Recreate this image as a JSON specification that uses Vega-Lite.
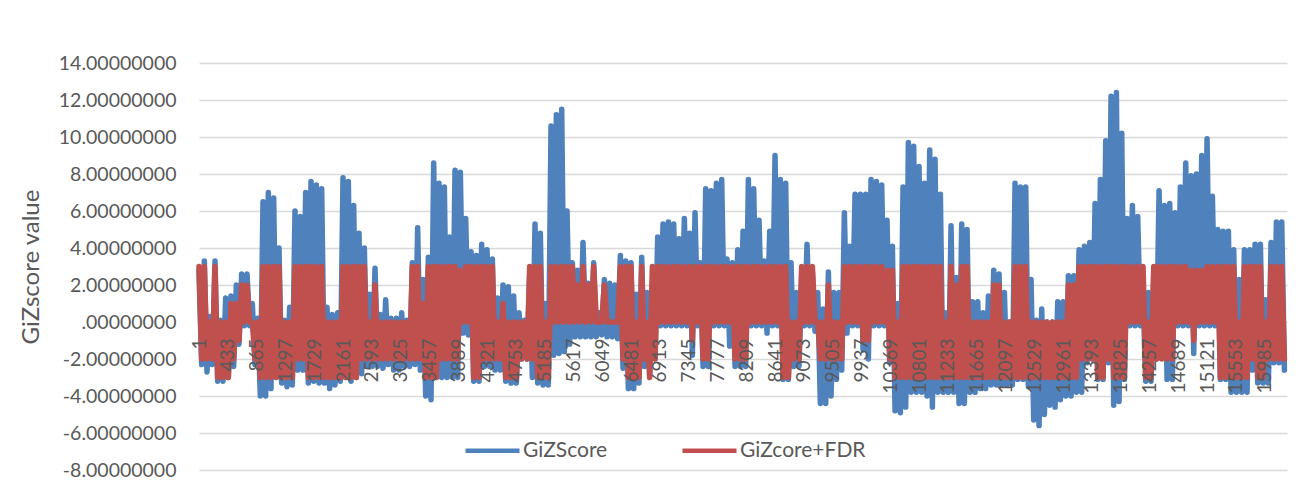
{
"$schema": "https://vega.github.io/schema/vega-lite/v6.json",
"width": 1088, "height": 407,
"autosize": {"type": "none"},
"padding": {"left": 199, "top": 63, "right": 13, "bottom": 12},
"background": "white",
"config": {"view": {"stroke": null}, "font": "Lato"},
"data": {"values": [
{"i":1,"g":2.8,"f":3},{"i":41,"g":-2.3,"f":-2},
{"i":81,"g":3.3,"f":3},{"i":121,"g":-2.7,"f":-2},
{"i":161,"g":0.3,"f":0},{"i":201,"g":-2.3,"f":-2},
{"i":241,"g":3.3,"f":3},{"i":281,"g":-3.2,"f":-3},
{"i":321,"g":0.1,"f":0},{"i":361,"g":-3.2,"f":-3},
{"i":401,"g":1.3,"f":0},{"i":441,"g":-3.0,"f":-3},
{"i":481,"g":1.4,"f":1},{"i":521,"g":-2.4,"f":-2},
{"i":561,"g":2.0,"f":1},{"i":601,"g":-1.2,"f":-1},
{"i":641,"g":2.6,"f":2},{"i":681,"g":-0.2,"f":0},
{"i":721,"g":2.6,"f":2},{"i":761,"g":-0.2,"f":0},
{"i":801,"g":1.0,"f":0},{"i":841,"g":-2.3,"f":-2},
{"i":881,"g":0.2,"f":0},{"i":921,"g":-4.0,"f":-3},
{"i":961,"g":6.5,"f":3},{"i":1001,"g":-4.0,"f":-3},
{"i":1041,"g":7.0,"f":3},{"i":1081,"g":-3.6,"f":-3},
{"i":1121,"g":6.7,"f":3},{"i":1161,"g":-3.0,"f":-3},
{"i":1201,"g":4.0,"f":3},{"i":1241,"g":-3.3,"f":-3},
{"i":1281,"g":0.1,"f":0},{"i":1321,"g":-3.5,"f":-3},
{"i":1361,"g":0.8,"f":0},{"i":1401,"g":-3.4,"f":-3},
{"i":1441,"g":6.0,"f":3},{"i":1481,"g":-2.6,"f":-2},
{"i":1521,"g":5.7,"f":3},{"i":1561,"g":-2.6,"f":-2},
{"i":1601,"g":7.0,"f":3},{"i":1641,"g":-3.3,"f":-3},
{"i":1681,"g":7.6,"f":3},{"i":1721,"g":-3.2,"f":-3},
{"i":1761,"g":7.4,"f":3},{"i":1801,"g":-3.3,"f":-3},
{"i":1841,"g":7.2,"f":3},{"i":1881,"g":-3.3,"f":-3},
{"i":1921,"g":0.8,"f":0},{"i":1961,"g":-3.6,"f":-3},
{"i":2001,"g":0.4,"f":0},{"i":2041,"g":-3.4,"f":-3},
{"i":2081,"g":0.5,"f":0},{"i":2121,"g":-3.2,"f":-3},
{"i":2161,"g":7.8,"f":3},{"i":2201,"g":-3.0,"f":-3},
{"i":2241,"g":7.6,"f":3},{"i":2281,"g":-3.2,"f":-3},
{"i":2321,"g":6.3,"f":3},{"i":2361,"g":-3.0,"f":-3},
{"i":2401,"g":4.8,"f":3},{"i":2441,"g":-2.8,"f":-2},
{"i":2481,"g":4.0,"f":3},{"i":2521,"g":-2.4,"f":-2},
{"i":2561,"g":1.5,"f":0},{"i":2601,"g":-2.4,"f":-2},
{"i":2641,"g":2.9,"f":2},{"i":2681,"g":-2.4,"f":-2},
{"i":2721,"g":0.4,"f":0},{"i":2761,"g":-2.5,"f":-2},
{"i":2801,"g":1.2,"f":0},{"i":2841,"g":-2.3,"f":-2},
{"i":2881,"g":0.2,"f":0},{"i":2921,"g":-2.6,"f":-2},
{"i":2961,"g":0.2,"f":0},{"i":3001,"g":-2.6,"f":-2},
{"i":3041,"g":0.5,"f":0},{"i":3081,"g":-2.4,"f":-2},
{"i":3121,"g":0.1,"f":0},{"i":3161,"g":-2.4,"f":-2},
{"i":3201,"g":3.2,"f":3},{"i":3241,"g":-2.3,"f":-2},
{"i":3281,"g":5.1,"f":3},{"i":3321,"g":-2.6,"f":-2},
{"i":3361,"g":2.3,"f":1},{"i":3401,"g":-4.0,"f":-3},
{"i":3441,"g":3.5,"f":3},{"i":3481,"g":-4.2,"f":-3},
{"i":3521,"g":8.6,"f":3},{"i":3561,"g":-3.0,"f":-3},
{"i":3601,"g":7.5,"f":3},{"i":3641,"g":-3.0,"f":-2},
{"i":3681,"g":7.3,"f":3},{"i":3721,"g":-3.0,"f":-2},
{"i":3761,"g":4.6,"f":3},{"i":3801,"g":-3.0,"f":-2},
{"i":3841,"g":8.2,"f":3},{"i":3881,"g":-3.0,"f":-2},
{"i":3921,"g":8.1,"f":2.8},{"i":3961,"g":-0.6,"f":0},
{"i":4001,"g":5.6,"f":3},{"i":4041,"g":-0.7,"f":0},
{"i":4081,"g":3.8,"f":3},{"i":4121,"g":-3.2,"f":-3},
{"i":4161,"g":3.6,"f":3},{"i":4201,"g":-3.2,"f":-3},
{"i":4241,"g":4.2,"f":3},{"i":4281,"g":-2.4,"f":-2},
{"i":4321,"g":3.9,"f":3},{"i":4361,"g":-2.4,"f":-2},
{"i":4401,"g":3.4,"f":3},{"i":4441,"g":-2.6,"f":-2},
{"i":4481,"g":1.3,"f":0},{"i":4521,"g":-2.6,"f":-2},
{"i":4561,"g":2.0,"f":1},{"i":4601,"g":-3.2,"f":-3},
{"i":4641,"g":1.9,"f":0},{"i":4681,"g":-3.3,"f":-3},
{"i":4721,"g":1.4,"f":0},{"i":4761,"g":-3.3,"f":-3},
{"i":4801,"g":0.5,"f":0},{"i":4841,"g":-2.0,"f":-2},
{"i":4881,"g":0.1,"f":0},{"i":4921,"g":-2.0,"f":-2},
{"i":4961,"g":2.6,"f":3},{"i":5001,"g":-3.0,"f":-2},
{"i":5041,"g":5.3,"f":3},{"i":5081,"g":-3.3,"f":-3},
{"i":5121,"g":4.8,"f":3},{"i":5161,"g":-3.4,"f":-3},
{"i":5201,"g":1.0,"f":0},{"i":5241,"g":-3.4,"f":-3},
{"i":5281,"g":10.6,"f":3},{"i":5321,"g":-1.8,"f":0},
{"i":5361,"g":11.2,"f":3},{"i":5401,"g":-1.7,"f":0},
{"i":5441,"g":11.5,"f":3},{"i":5481,"g":-1.6,"f":0},
{"i":5521,"g":6.0,"f":3},{"i":5561,"g":-1.2,"f":0},
{"i":5601,"g":3.2,"f":3},{"i":5641,"g":-0.8,"f":0},
{"i":5681,"g":2.8,"f":2},{"i":5721,"g":-0.8,"f":0},
{"i":5761,"g":4.3,"f":3},{"i":5801,"g":-0.8,"f":0},
{"i":5841,"g":2.1,"f":2},{"i":5881,"g":-0.8,"f":0},
{"i":5921,"g":3.2,"f":3},{"i":5961,"g":-0.8,"f":0},
{"i":6001,"g":0.5,"f":0},{"i":6041,"g":-0.7,"f":0},
{"i":6081,"g":2.3,"f":2},{"i":6121,"g":-0.8,"f":0},
{"i":6161,"g":2.1,"f":0},{"i":6201,"g":-0.8,"f":0},
{"i":6241,"g":2.0,"f":0},{"i":6281,"g":-0.9,"f":0},
{"i":6321,"g":3.6,"f":3},{"i":6361,"g":-2.5,"f":-2},
{"i":6401,"g":3.3,"f":3},{"i":6441,"g":-3.6,"f":-3},
{"i":6481,"g":3.2,"f":3},{"i":6521,"g":-3.6,"f":-3},
{"i":6561,"g":1.5,"f":0},{"i":6601,"g":-3.3,"f":-3},
{"i":6641,"g":3.5,"f":3},{"i":6681,"g":-2.4,"f":-2},
{"i":6721,"g":1.6,"f":0},{"i":6761,"g":-2.9,"f":-3},
{"i":6801,"g":2.1,"f":3},{"i":6841,"g":-2.0,"f":-2},
{"i":6881,"g":4.6,"f":3},{"i":6921,"g":-0.2,"f":0},
{"i":6961,"g":5.3,"f":3},{"i":7001,"g":-0.2,"f":0},
{"i":7041,"g":5.4,"f":3},{"i":7081,"g":-0.2,"f":0},
{"i":7121,"g":5.3,"f":3},{"i":7161,"g":-0.2,"f":0},
{"i":7201,"g":4.5,"f":3},{"i":7241,"g":-0.2,"f":0},
{"i":7281,"g":5.6,"f":3},{"i":7321,"g":-0.2,"f":0},
{"i":7361,"g":4.8,"f":3},{"i":7401,"g":-1.8,"f":-1},
{"i":7441,"g":5.9,"f":3},{"i":7481,"g":-0.2,"f":0},
{"i":7521,"g":3.2,"f":3},{"i":7561,"g":-2.4,"f":-2},
{"i":7601,"g":7.2,"f":3},{"i":7641,"g":-2.4,"f":-2},
{"i":7681,"g":7.1,"f":3},{"i":7721,"g":-0.2,"f":0},
{"i":7761,"g":7.5,"f":3},{"i":7801,"g":-0.2,"f":0},
{"i":7841,"g":7.7,"f":3},{"i":7881,"g":-0.2,"f":0},
{"i":7921,"g":3.4,"f":3},{"i":7961,"g":-1.3,"f":0},
{"i":8001,"g":3.2,"f":3},{"i":8041,"g":-2.4,"f":-2},
{"i":8081,"g":3.9,"f":3},{"i":8121,"g":-2.4,"f":-2},
{"i":8161,"g":4.9,"f":3},{"i":8201,"g":-2.4,"f":-2},
{"i":8241,"g":7.7,"f":3},{"i":8281,"g":-0.2,"f":0},
{"i":8321,"g":7.2,"f":3},{"i":8361,"g":-0.2,"f":0},
{"i":8401,"g":5.5,"f":3},{"i":8441,"g":-0.2,"f":0},
{"i":8481,"g":3.3,"f":3},{"i":8521,"g":-0.6,"f":0},
{"i":8561,"g":4.9,"f":3},{"i":8601,"g":-0.2,"f":0},
{"i":8641,"g":9.0,"f":3},{"i":8681,"g":-0.2,"f":0},
{"i":8721,"g":7.7,"f":3},{"i":8761,"g":-3.1,"f":-3},
{"i":8801,"g":7.5,"f":3},{"i":8841,"g":-3.1,"f":-3},
{"i":8881,"g":3.2,"f":0},{"i":8921,"g":-2.4,"f":-2},
{"i":8961,"g":1.6,"f":0},{"i":9001,"g":-2.4,"f":-2},
{"i":9041,"g":2.7,"f":3},{"i":9081,"g":-0.2,"f":0},
{"i":9121,"g":4.2,"f":3},{"i":9161,"g":-0.2,"f":0},
{"i":9201,"g":2.7,"f":3},{"i":9241,"g":-0.5,"f":0},
{"i":9281,"g":1.6,"f":0},{"i":9321,"g":-4.4,"f":-2},
{"i":9361,"g":0.7,"f":0},{"i":9401,"g":-4.4,"f":-2},
{"i":9441,"g":2.7,"f":2},{"i":9481,"g":-4.0,"f":-2},
{"i":9521,"g":1.6,"f":0},{"i":9561,"g":-3.1,"f":-2},
{"i":9601,"g":1.6,"f":0},{"i":9641,"g":-2.6,"f":-2},
{"i":9681,"g":5.9,"f":3},{"i":9721,"g":-0.6,"f":0},
{"i":9761,"g":4.1,"f":3},{"i":9801,"g":-0.2,"f":0},
{"i":9841,"g":6.9,"f":3},{"i":9881,"g":-0.2,"f":0},
{"i":9921,"g":6.9,"f":3},{"i":9961,"g":-1.5,"f":-1},
{"i":10001,"g":6.9,"f":3},{"i":10041,"g":-2.0,"f":-1},
{"i":10081,"g":7.7,"f":3},{"i":10121,"g":-0.2,"f":0},
{"i":10161,"g":7.6,"f":3},{"i":10201,"g":-0.2,"f":0},
{"i":10241,"g":7.4,"f":3},{"i":10281,"g":-0.2,"f":0},
{"i":10321,"g":5.5,"f":2.8},{"i":10361,"g":-2.2,"f":-2},
{"i":10401,"g":4.1,"f":2.8},{"i":10441,"g":-4.8,"f":-3},
{"i":10481,"g":1.0,"f":0},{"i":10521,"g":-4.9,"f":-3},
{"i":10561,"g":7.3,"f":3},{"i":10601,"g":-4.6,"f":-3},
{"i":10641,"g":9.7,"f":3},{"i":10681,"g":-3.8,"f":-3},
{"i":10721,"g":9.5,"f":3},{"i":10761,"g":-3.8,"f":-3},
{"i":10801,"g":8.4,"f":3},{"i":10841,"g":-3.8,"f":-3},
{"i":10881,"g":7.5,"f":3},{"i":10921,"g":-4.0,"f":-3},
{"i":10961,"g":9.3,"f":3},{"i":11001,"g":-4.6,"f":-3},
{"i":11041,"g":8.8,"f":3},{"i":11081,"g":-3.8,"f":-3},
{"i":11121,"g":6.9,"f":3},{"i":11161,"g":-3.8,"f":-3},
{"i":11201,"g":0.5,"f":0},{"i":11241,"g":-3.8,"f":-3},
{"i":11281,"g":5.2,"f":3},{"i":11321,"g":-3.8,"f":-3},
{"i":11361,"g":2.4,"f":2},{"i":11401,"g":-4.4,"f":-3},
{"i":11441,"g":5.3,"f":3},{"i":11481,"g":-4.4,"f":-3},
{"i":11521,"g":5.0,"f":3},{"i":11561,"g":-3.8,"f":-3},
{"i":11601,"g":1.1,"f":0},{"i":11641,"g":-3.8,"f":-3},
{"i":11681,"g":1.1,"f":0},{"i":11721,"g":-3.6,"f":-3},
{"i":11761,"g":0.5,"f":0},{"i":11801,"g":-3.6,"f":-3},
{"i":11841,"g":1.4,"f":0},{"i":11881,"g":-3.4,"f":-3},
{"i":11921,"g":2.8,"f":2},{"i":11961,"g":-3.4,"f":-3},
{"i":12001,"g":2.6,"f":2},{"i":12041,"g":-3.4,"f":-3},
{"i":12081,"g":1.6,"f":0},{"i":12121,"g":-3.4,"f":-3},
{"i":12161,"g":0.0,"f":0},{"i":12201,"g":-3.4,"f":-3},
{"i":12241,"g":7.5,"f":3},{"i":12281,"g":-3.1,"f":-3},
{"i":12321,"g":7.3,"f":3},{"i":12361,"g":-3.1,"f":-3},
{"i":12401,"g":7.3,"f":3},{"i":12441,"g":-3.5,"f":-3},
{"i":12481,"g":2.3,"f":0},{"i":12521,"g":-5.3,"f":-3},
{"i":12561,"g":0.1,"f":0},{"i":12601,"g":-5.6,"f":-3},
{"i":12641,"g":0.7,"f":0},{"i":12681,"g":-5.0,"f":-3},
{"i":12721,"g":0.0,"f":0},{"i":12761,"g":-4.5,"f":-3},
{"i":12801,"g":0.0,"f":0},{"i":12841,"g":-4.6,"f":-3},
{"i":12881,"g":1.1,"f":0},{"i":12921,"g":-4.2,"f":-3},
{"i":12961,"g":1.1,"f":0},{"i":13001,"g":-4.0,"f":-3},
{"i":13041,"g":2.5,"f":2},{"i":13081,"g":-4.0,"f":-3},
{"i":13121,"g":2.5,"f":2},{"i":13161,"g":-3.8,"f":-3},
{"i":13201,"g":3.9,"f":3},{"i":13241,"g":-3.8,"f":-2},
{"i":13281,"g":4.1,"f":3},{"i":13321,"g":-2.2,"f":-2},
{"i":13361,"g":4.3,"f":3},{"i":13401,"g":-2.0,"f":-2},
{"i":13441,"g":6.4,"f":3},{"i":13481,"g":-3.1,"f":-3},
{"i":13521,"g":7.7,"f":3},{"i":13561,"g":-3.1,"f":-3},
{"i":13601,"g":9.8,"f":3},{"i":13641,"g":-2.2,"f":-2},
{"i":13681,"g":12.2,"f":3},{"i":13721,"g":-4.5,"f":-3},
{"i":13761,"g":12.4,"f":3},{"i":13801,"g":-4.3,"f":-3},
{"i":13841,"g":10.2,"f":3},{"i":13881,"g":-3.1,"f":-3},
{"i":13921,"g":5.6,"f":3},{"i":13961,"g":-0.2,"f":0},
{"i":14001,"g":6.3,"f":3},{"i":14041,"g":-0.2,"f":0},
{"i":14081,"g":5.7,"f":3},{"i":14121,"g":-0.2,"f":0},
{"i":14161,"g":1.6,"f":3},{"i":14201,"g":-3.2,"f":-3},
{"i":14241,"g":1.6,"f":0},{"i":14281,"g":-3.2,"f":-3},
{"i":14321,"g":2.5,"f":3},{"i":14361,"g":-2.0,"f":-2},
{"i":14401,"g":7.1,"f":3},{"i":14441,"g":-1.8,"f":-2},
{"i":14481,"g":6.3,"f":3},{"i":14521,"g":-3.1,"f":-2},
{"i":14561,"g":6.4,"f":3},{"i":14601,"g":-3.1,"f":-2},
{"i":14641,"g":5.9,"f":3},{"i":14681,"g":-0.2,"f":0},
{"i":14721,"g":7.3,"f":3},{"i":14761,"g":-0.2,"f":0},
{"i":14801,"g":8.6,"f":3},{"i":14841,"g":-0.2,"f":0},
{"i":14881,"g":7.9,"f":2.8},{"i":14921,"g":-1.7,"f":-1},
{"i":14961,"g":8.0,"f":2.8},{"i":15001,"g":-0.2,"f":0},
{"i":15041,"g":9.0,"f":2.8},{"i":15081,"g":-0.2,"f":0},
{"i":15121,"g":9.9,"f":3},{"i":15161,"g":-0.2,"f":0},
{"i":15201,"g":6.8,"f":3},{"i":15241,"g":-0.2,"f":0},
{"i":15281,"g":5.0,"f":3},{"i":15321,"g":-3.1,"f":-3},
{"i":15361,"g":4.9,"f":3},{"i":15401,"g":-3.1,"f":-3},
{"i":15441,"g":4.9,"f":3},{"i":15481,"g":-3.8,"f":-3},
{"i":15521,"g":3.9,"f":3},{"i":15561,"g":-3.8,"f":-3},
{"i":15601,"g":2.3,"f":0},{"i":15641,"g":-3.8,"f":-3},
{"i":15681,"g":3.9,"f":3},{"i":15721,"g":-3.8,"f":-3},
{"i":15761,"g":3.9,"f":3},{"i":15801,"g":-2.6,"f":-2},
{"i":15841,"g":4.2,"f":3},{"i":15881,"g":-3.3,"f":-3},
{"i":15921,"g":4.2,"f":3},{"i":15961,"g":-3.3,"f":-3},
{"i":16001,"g":1.2,"f":0},{"i":16041,"g":-3.3,"f":-2},
{"i":16081,"g":4.3,"f":3},{"i":16121,"g":-2.2,"f":-2},
{"i":16161,"g":5.4,"f":3},{"i":16201,"g":-2.2,"f":-2},
{"i":16241,"g":5.4,"f":3},{"i":16281,"g":-2.6,"f":-2}
]},
"encoding": {
  "x": {"field": "i", "type": "quantitative",
    "scale": {"domain": [1, 16320], "nice": false, "zero": false},
    "axis": {"title": null, "values": [1,433,865,1297,1729,2161,2593,3025,3457,3889,4321,4753,5185,5617,6049,6481,6913,7345,7777,8209,8641,9073,9505,9937,10369,10801,11233,11665,12097,12529,12961,13393,13825,14257,14689,15121,15553,15985],
      "format": "d", "labelAngle": -90, "labelAlign": "right", "labelBaseline": "middle",
      "labelFont": "Lato", "labelFontSize": 19, "labelColor": "#595959", "labelPadding": 16,
      "labelFlush": false, "labelOverlap": false, "labelBound": false,
      "ticks": false, "grid": false, "domain": false, "offset": -148, "zindex": 1}}
},
"layer": [
  {"mark": {"type": "line", "strokeWidth": 5.5, "strokeJoin": "round", "strokeCap": "round"},
   "encoding": {
     "y": {"field": "g", "type": "quantitative",
       "scale": {"domain": [-8, 14], "nice": false, "zero": false},
       "axis": {"title": "GiZscore value", "values": [-8,-6,-4,-2,0,2,4,6,8,10,12,14], "tickCount": 12,
         "labelExpr": "datum.value == 0 ? '.00000000' : (datum.value < 0 ? '-' : '') + format(abs(datum.value), '.8f')",
         "labelFont": "Lato", "labelFontSize": 19.5, "labelColor": "#595959", "labelPadding": 23,
         "labelOverlap": false, "labelBound": false, "labelFlush": false,
         "domain": false, "ticks": false, "grid": true, "gridColor": "#d9d9d9", "gridWidth": 1.3,
         "titleFont": "Lato", "titleFontSize": 24, "titleFontWeight": "normal", "titleColor": "#595959",
         "titleX": -168, "titleY": 203.5, "titleBaseline": "middle", "titleAlign": "center"}},
     "color": {"datum": "GiZScore", "type": "nominal",
       "scale": {"domain": ["GiZScore", "GiZcore+FDR"], "range": ["#4F81BD", "#C0504D"]},
       "legend": {"orient": "none", "legendX": 264, "legendY": 358, "direction": "horizontal", "title": null,
         "symbolType": "stroke", "symbolSize": 2916, "symbolStrokeWidth": 4.5,
         "labelFont": "Lato", "labelFontSize": 21, "labelColor": "#595959", "labelOffset": 1,
         "columnPadding": 65, "padding": 0}}
   }},
  {"mark": {"type": "line", "strokeWidth": 5.5, "strokeJoin": "round", "strokeCap": "round"},
   "encoding": {
     "y": {"field": "f", "type": "quantitative",
       "axis": {"title": "GiZscore value", "values": [-8,-6,-4,-2,0,2,4,6,8,10,12,14], "tickCount": 12,
         "labelExpr": "datum.value == 0 ? '.00000000' : (datum.value < 0 ? '-' : '') + format(abs(datum.value), '.8f')",
         "labelFont": "Lato", "labelFontSize": 19.5, "labelColor": "#595959", "labelPadding": 23,
         "labelOverlap": false, "labelBound": false, "labelFlush": false,
         "domain": false, "ticks": false, "grid": true, "gridColor": "#d9d9d9", "gridWidth": 1.3,
         "titleFont": "Lato", "titleFontSize": 24, "titleFontWeight": "normal", "titleColor": "#595959",
         "titleX": -168, "titleY": 203.5, "titleBaseline": "middle", "titleAlign": "center"}},
     "color": {"datum": "GiZcore+FDR", "type": "nominal"}
   }}
]
}
